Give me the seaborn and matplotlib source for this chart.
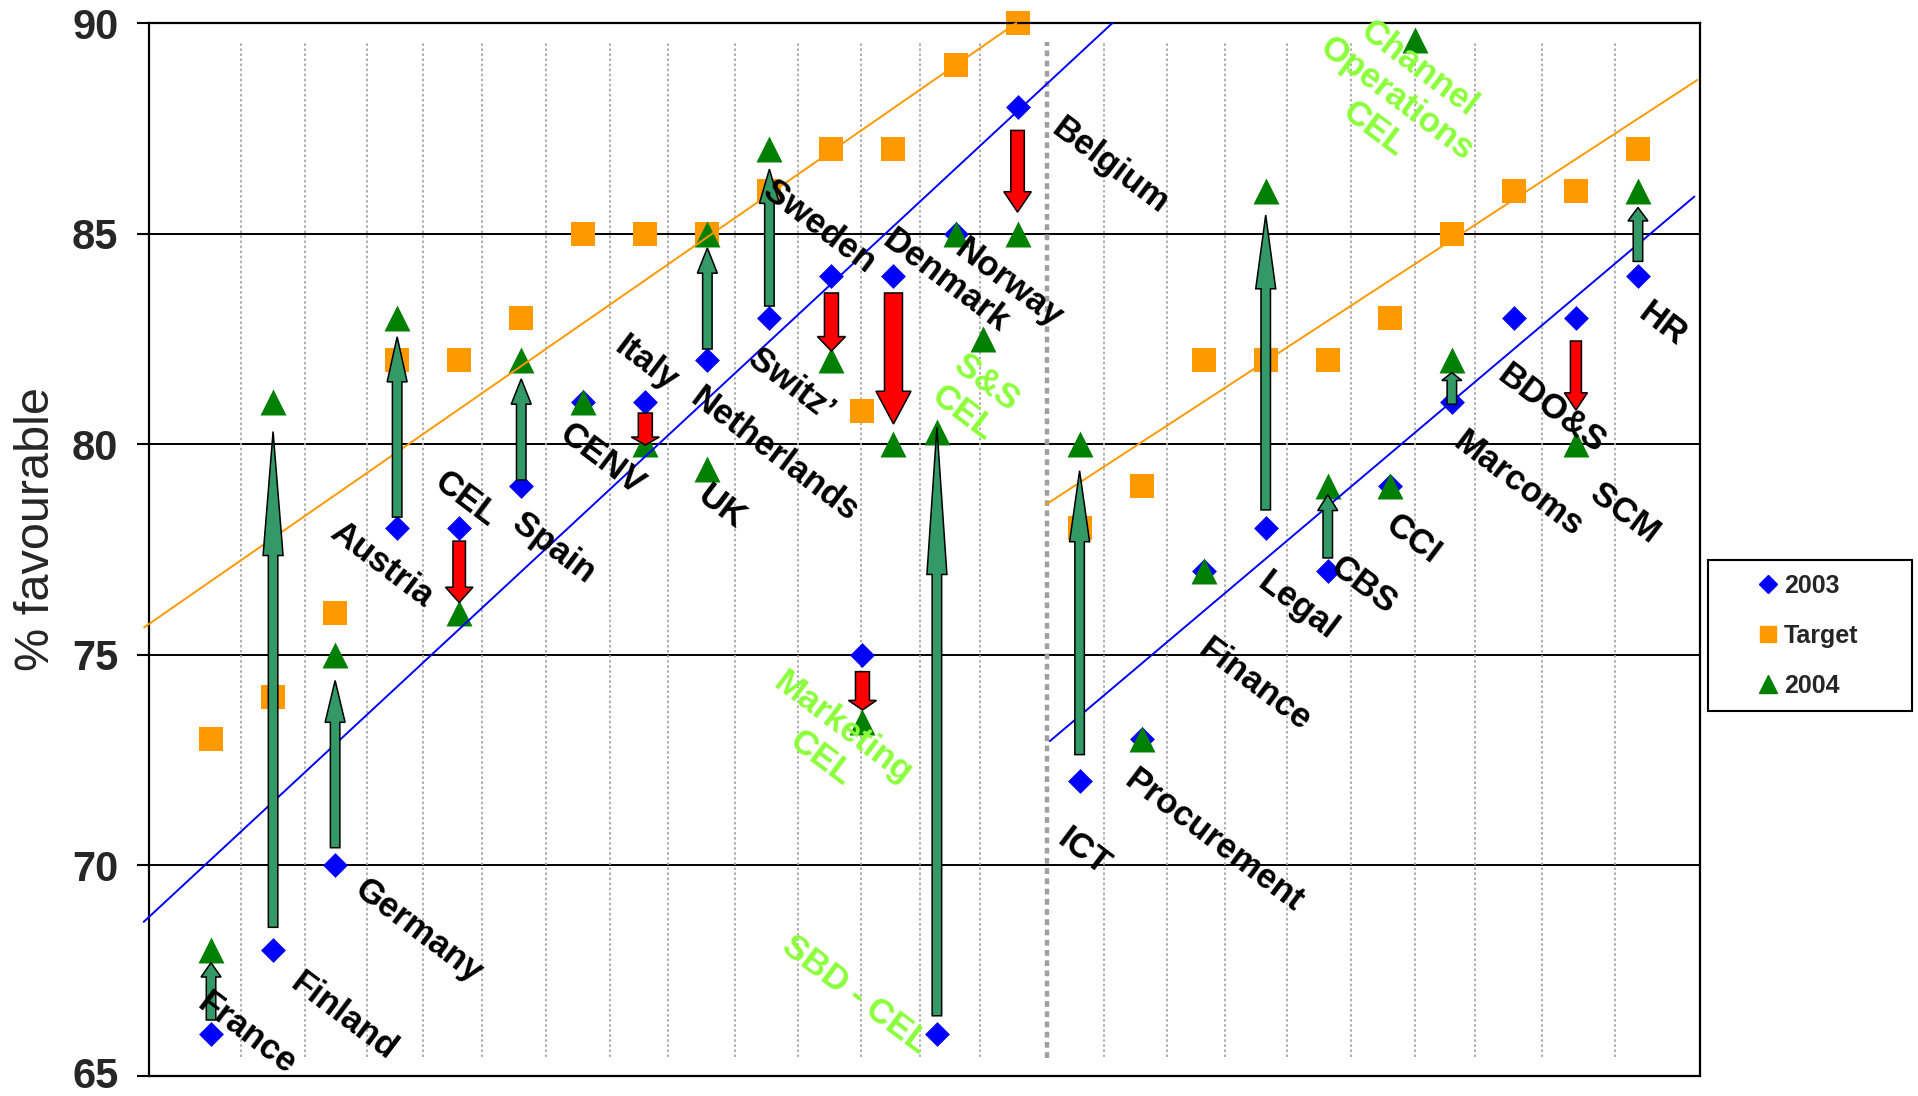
import numpy as np
import pandas as pd
import matplotlib
matplotlib.use("Agg")
import matplotlib.pyplot as plt
import matplotlib.transforms as mtransforms
from matplotlib.lines import Line2D
from matplotlib.patches import Polygon, Rectangle
import seaborn as sns

# ---------------------------------------------------------------- data
units = ["France", "Finland", "Germany", "Austria", "CEL", "Spain", "CENV", "Italy",
         "Netherlands", "UK", "Switz\u2019", "Sweden", "Marketing\nCEL", "Denmark",
         "SBD - CEL", "Norway", "S&S\nCEL", "Belgium",
         "ICT", "Procurement", "Finance", "Legal", "CBS", "CCI",
         "Channel\nOperations\nCEL", "Marcoms", "BDO&S", "SCM", "HR"]
x_pos = [1, 2, 3, 4, 5, 6, 7, 8,
         9, 9, 10, 11, 11.5, 12,
         12.7, 13, 13.45, 14,
         15, 16, 17, 18, 19, 20,
         20.4, 21, 22, 23, 24]
score_2003 = [66, 68, 70, 78, 78, 79, 81, 81,
              82, np.nan, 83, 84, 75, 84,
              66, 85, np.nan, 88,
              72, 73, 77, 78, 77, 79,
              np.nan, 81, 83, 83, 84]
target = [73, 74, 76, 82, 82, 83, 85, 85,
          85, np.nan, 86, 87, 80.8, 87,
          np.nan, 89, np.nan, 90,
          78, 79, 82, 82, 82, 83,
          np.nan, 85, 86, 86, 87]
score_2004 = [68, 81, 75, 83, 76, 82, 81, 80,
              85, 79.4, 87, 82, 73.4, 80,
              80.3, 85, 82.5, 85,
              80, 73, 77, 86, 79, 79,
              89.6, 82, np.nan, 80, 86]
cel_units = ["Marketing\nCEL", "SBD - CEL", "S&S\nCEL", "Channel\nOperations\nCEL"]

y_ticks = [65, 70, 75, 80, 85, 90]
legend_labels = ["2003", "Target", "2004"]

# hand-drawn trend guides, countries (left) and functions (right): (x0, x1), (y0, y1)
trend_2003_left = ([-0.085, 15.53], [68.66, 90.0])
trend_target_left = ([-0.08, 13.98], [75.65, 90.0])
trend_2003_right = ([14.52, 24.91], [72.95, 85.88])
trend_target_right = ([14.47, 24.96], [78.58, 88.65])

# ---------------------------------------------------------------- layout / style
guide_x = [1.48, 2.51, 3.51, 4.42, 5.37, 6.40, 7.43, 8.37, 9.45, 10.46, 11.48,
           12.42, 13.40, 15.40, 16.41, 17.34, 18.34, 19.37, 20.40, 21.38, 22.46, 23.63]
separator_x = 14.48

label_xy = {
    "France": (1.58, 66.0), "Finland": (3.14, 66.4), "Germany": (4.34, 68.43),
    "Austria": (3.75, 77.14), "CEL": (5.11, 78.7), "Spain": (6.53, 77.54),
    "CENV": (7.30, 79.63), "Italy": (8.01, 81.9), "UK": (9.23, 78.5),
    "Netherlands": (10.08, 79.75), "Switz\u2019": (10.35, 81.41), "Sweden": (10.81, 85.15),
    "Denmark": (12.84, 83.87), "Norway": (13.86, 83.82), "Belgium": (15.5, 86.6),
    "S&S\nCEL": (13.31, 81.09), "Marketing\nCEL": (11.01, 72.9), "SBD - CEL": (11.38, 66.92),
    "Channel\nOperations\nCEL": (20.11, 88.2), "ICT": (15.07, 70.31),
    "Procurement": (17.16, 70.57), "Finance": (17.83, 74.29), "Legal": (18.52, 76.15),
    "CBS": (19.58, 76.64), "CCI": (20.37, 77.75), "Marcoms": (22.07, 79.05),
    "BDO&S": (22.60, 80.82), "SCM": (23.78, 78.36), "HR": (24.39, 82.83),
}

# arrow gaps from the 2003 marker and to the 2004 marker (score points)
arrow_gaps = {
    "France": (0.33, 0.31), "Finland": (0.53, 0.70), "Germany": (0.42, 0.61),
    "Austria": (0.27, 0.45), "CEL": (0.30, 0.24), "Spain": (0.15, 0.45),
    "Italy": (0.26, -0.02), "Netherlands": (0.26, 0.34), "Switz\u2019": (0.28, 0.47),
    "Sweden": (0.41, 0.21), "Marketing\nCEL": (0.40, 0.29), "Denmark": (0.41, 0.48),
    "SBD - CEL": (0.43, -0.10), "Belgium": (0.55, 0.51), "ICT": (0.63, 0.63),
    "Legal": (0.44, 0.56), "CBS": (0.30, 0.20), "Marcoms": (-0.05, 0.30),
    "SCM": (0.55, 0.81), "HR": (0.34, 0.38),
}
# shaft / head widths in pixels
arrow_width_px = {"Denmark": (18, 35), "SCM": (11, 23), "CEL": (12.5, 27.5),
                  "Belgium": (13.5, 27.5)}
UP_WIDTH = (9.5, 20)
DOWN_WIDTH = (14, 28)

C_2003 = "#0000FF"
C_TARGET = "#FF9900"
C_2004 = "#008000"
C_UP = "#339966"
C_DOWN = "#FF0000"
C_CEL = "#8CFF3C"

W_PX, H_PX = 1918, 1096
AX_L, AX_R, AX_T, AX_B = 149, 1700, 23, 1076

sns.set_style("white")
plt.rcParams["font.family"] = ["Liberation Sans", "DejaVu Sans"]

fig = plt.figure(figsize=(W_PX / 100, H_PX / 100), dpi=100)
ax = fig.add_axes([AX_L / W_PX, (H_PX - AX_B) / H_PX,
                   (AX_R - AX_L) / W_PX, (AX_B - AX_T) / H_PX])
ax.set_xlim(0, 25)
ax.set_ylim(65, 90)

# horizontal grid and frame
ax.set_yticks(y_ticks)
ax.set_xticks([])
ax.yaxis.grid(True, color="black", linewidth=1.4, zorder=0.5)
ax.set_axisbelow(True)
for sp in ax.spines.values():
    sp.set_visible(True)
    sp.set_color("black")
    sp.set_linewidth(1.6)
ax.tick_params(axis="y", direction="out", length=9, width=1.5, color="black",
               labelsize=30, pad=13, left=True)
lift = mtransforms.ScaledTranslation(0, 4 / 100, fig.dpi_scale_trans)
for lbl in ax.get_yticklabels():
    lbl.set_fontweight("bold")
for tick in ax.yaxis.get_major_ticks()[:1]:
    tick.label1.set_transform(tick.label1.get_transform() + lift)

# vertical dotted guides and the countries / functions separator
ax.vlines(guide_x, 65.45, 89.55, colors="#A8A8A8", linewidth=1.3,
          linestyles=(0, (1.4, 1.4)), zorder=1)
ax.vlines([separator_x], 65.42, 89.55, colors="#A0A0A0", linewidth=3.2,
          linestyles=(0, (1.3, 1.0)), zorder=1)

# markers
df = pd.DataFrame({"unit": units, "x": x_pos, "s2003": score_2003,
                   "target": target, "s2004": score_2004})
for col, mk, size, colour in [("s2003", "D", 160, C_2003),
                              ("target", "s", 275, C_TARGET),
                              ("s2004", "^", 350, C_2004)]:
    sns.scatterplot(data=df, x="x", y=col, marker=mk, s=size, color=colour,
                    linewidth=0, ax=ax, zorder=2, legend=False, clip_on=False)
ax.set_xlabel("")
ax.set_ylabel("")

# trend guides
for (xs, ys), col in [(trend_2003_left, C_2003), (trend_target_left, C_TARGET),
                      (trend_2003_right, C_2003), (trend_target_right, C_TARGET)]:
    ax.plot(xs, ys, color=col, linewidth=1.4, zorder=3, clip_on=False)

# change arrows 2003 -> 2004
px_per_x = (AX_R - AX_L) / 25.0
for _, row in df.iterrows():
    a, b = row["s2003"], row["s2004"]
    if np.isnan(a) or np.isnan(b) or a == b:
        continue
    up = b > a
    g0, g1 = arrow_gaps.get(row["unit"], (0.35, 0.45))
    sgn = 1 if up else -1
    y0 = a + sgn * g0
    y1 = b - sgn * g1
    shaft, head = arrow_width_px.get(row["unit"], UP_WIDTH if up else DOWN_WIDTH)
    sw = shaft / 2 / px_per_x
    hw = head / 2 / px_per_x
    yh = y1 - 0.25 * (y1 - y0)
    x = row["x"]
    verts = [(x - sw, y0), (x + sw, y0), (x + sw, yh), (x + hw, yh),
             (x, y1), (x - hw, yh), (x - sw, yh)]
    ax.add_patch(Polygon(verts, closed=True, facecolor=C_UP if up else C_DOWN,
                         edgecolor="black", linewidth=1.1, zorder=4,
                         joinstyle="miter"))

# unit names
for name, (lx, ly) in label_xy.items():
    ax.text(lx, ly, name, rotation=-37, ha="center", va="center",
            multialignment="center", fontsize=25, fontweight="bold",
            color=C_CEL if name in cel_units else "black",
            linespacing=1.18, zorder=5, clip_on=False)

# y-axis title
fig.text(37 / W_PX, 1 - 529 / H_PX, "% favourable", rotation=90,
         ha="center", va="center", fontsize=35)

# legend
handles = [Line2D([], [], marker="D", color=C_2003, ls="", markersize=9.5),
           Line2D([], [], marker="s", color=C_TARGET, ls="", markersize=12),
           Line2D([], [], marker="^", color=C_2004, ls="", markersize=13.5)]
ax.legend(handles, legend_labels, loc="upper left",
          bbox_to_anchor=(1758 / W_PX, 1 - 574 / H_PX),
          bbox_transform=fig.transFigure, frameon=False,
          prop={"weight": "bold", "size": 18}, handlelength=0.8,
          handletextpad=0.25, labelspacing=1.04, borderpad=0,
          borderaxespad=0, numpoints=1)
fig.add_artist(Rectangle((1708 / W_PX, 1 - 711 / H_PX), 204 / W_PX, 151 / H_PX,
                         transform=fig.transFigure, fill=False,
                         edgecolor="black", linewidth=1.5))

fig.savefig("out.png", dpi=100)
